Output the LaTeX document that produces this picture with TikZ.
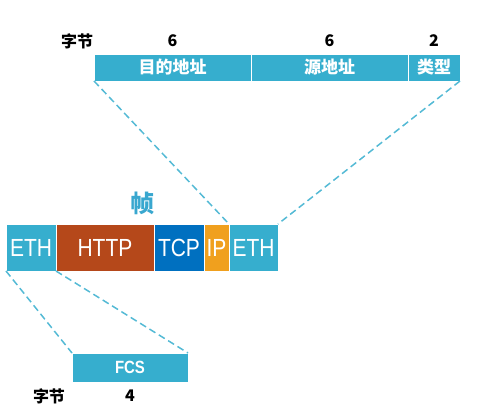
\documentclass[tikz,border=0pt]{standalone}
\usepackage{fontspec}
\setmainfont{Liberation Sans}
\newfontfamily\cjk{Noto Sans CJK SC}
\usepackage{xcolor}
\usepackage{graphicx}
\usetikzlibrary{positioning}

\definecolor{ethblue}{RGB}{54,174,206}
\definecolor{httpred}{RGB}{181,72,26}
\definecolor{tcpblue}{RGB}{0,112,192}
\definecolor{iporange}{RGB}{240,160,30}
\definecolor{titleblue}{RGB}{57,167,207}

\newcommand{\tallstr}[1]{\scalebox{1}[1.18]{#1}}

\begin{document}
\begin{tikzpicture}[
  x=1pt, y=-1pt,
  field/.style={
    draw=white,
    line width=0.6pt,
    outer sep=0pt,
    inner sep=0pt,
    text=white,
    minimum height=#1
  },
  hdrbox/.style={field=27pt, fill=ethblue, font=\cjk\bfseries\fontsize{17}{19}\selectfont},
  pktbox/.style={field=47pt, font=\fontsize{21}{24}\selectfont},
  bytelabel/.style={font=\cjk\bfseries\fontsize{16}{18}\selectfont, inner sep=0pt},
  zoomline/.style={ethblue!85, line width=1.5pt, dash pattern=on 7pt off 4pt}
]
\useasboundingbox (0,0) rectangle (480,420);

% header fields
\node[hdrbox, anchor=north west, minimum width=157pt] (dst) at (94,54) {目的地址};
\node[hdrbox, right=0pt of dst, minimum width=157pt] (src) {源地址};
\node[hdrbox, right=0pt of src, minimum width=52pt] (typ) {类型};

\node[bytelabel] (hbytes) at (77,41) {字节};
\node[bytelabel] (ndst) at (dst.center |- hbytes) {6};
\node[bytelabel] (nsrc) at (src.center |- hbytes) {6};
\node[bytelabel] (ntyp) at (typ.center |- hbytes) {2};

% frame
\node[pktbox, fill=ethblue, anchor=north west, minimum width=50pt] (eth1) at (6,224) {\tallstr{ETH}};
\node[pktbox, fill=httpred, right=0pt of eth1, minimum width=98pt] (http) {\tallstr{HTTP}};
\node[pktbox, fill=tcpblue, right=0pt of http, minimum width=50pt] (tcp) {\tallstr{TCP}};
\node[pktbox, fill=iporange, right=0pt of tcp, minimum width=25pt] (ip) {\tallstr{IP}};
\node[pktbox, fill=ethblue, right=0pt of ip, minimum width=49pt] (eth2) {\tallstr{ETH}};

\node[font=\cjk\bfseries\fontsize{24}{26}\selectfont, text=titleblue] (title) at (142,203) {帧};

% trailer
\node[field=29pt, fill=ethblue, anchor=north west, minimum width=116pt,
      font=\bfseries\fontsize{15}{17}\selectfont] (fcs) at (72,353) {\tallstr{FCS}};
\node[bytelabel] (tbytes) at (49,396) {字节};
\node[bytelabel] (nfcs) at (fcs.center |- tbytes) {4};

\draw[zoomline] (dst.south west) -- (eth2.north west);
\draw[zoomline] (typ.south east) -- (eth2.north east);
\draw[zoomline] (eth1.south west) -- (fcs.north west);
\draw[zoomline] (eth1.south east) -- (fcs.north east);
\end{tikzpicture}
\end{document}
